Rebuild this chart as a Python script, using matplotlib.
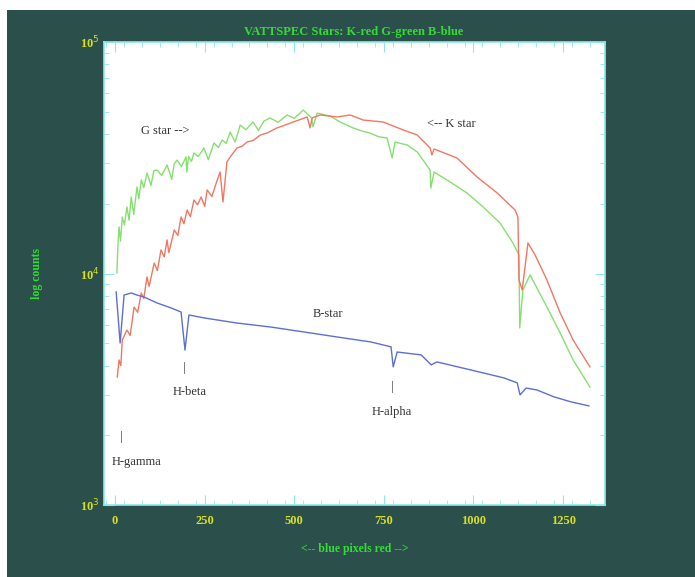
import matplotlib.pyplot as plt
from matplotlib.patches import Rectangle
from matplotlib.ticker import FixedLocator, NullFormatter
import numpy as np

# spectra: pixel index vs counts
g_pix = [5, 8, 11, 15, 20, 26, 33, 39, 45, 52, 61, 66, 73, 80, 89, 100, 108, 117, 130, 145, 158,
         165, 173, 185, 198, 200, 205, 213, 220, 232, 248, 260, 276, 288, 299, 310, 321, 335, 349,
         365, 385, 400, 415, 432, 455, 480, 500, 525, 548, 552, 564, 600, 628, 664, 690, 711, 735,
         759, 773, 781, 815, 843, 879, 881, 890, 935, 982, 1027, 1074, 1110, 1127, 1129, 1138, 1158,
         1180, 1205, 1242, 1278, 1325]
g_cnt = [10050, 13500, 15900, 13800, 17540, 16200, 19380, 17000, 21400, 18000, 23650, 21000, 25350,
         23500, 27170, 24000, 27800, 28000, 26500, 29430, 25500, 29800, 30900, 29000, 31850, 27430,
         32000, 30500, 33190, 32000, 34840, 31000, 36640, 35000, 37740, 36500, 40840, 37000, 43780,
         41800, 45120, 41500, 45500, 46980, 45000, 48390, 46800, 50800, 47000, 43000, 49320, 47860,
         45120, 42560, 41200, 40450, 39000, 38460, 31550, 36980, 35890, 33500, 28000, 23390, 27430,
         24850, 22280, 19380, 16530, 13550, 12020, 5820, 8490, 9860, 8490, 7160, 5530, 4230, 3230]

r_pix = [6, 11, 16, 20, 33, 42, 53, 63, 73, 80, 89, 95, 109, 118, 128, 137, 145, 150, 165, 175, 184,
         192, 201, 210, 220, 230, 240, 250, 257, 270, 285, 293, 301, 312, 325, 340, 355, 368, 385,
         405, 425, 452, 475, 497, 536, 544, 550, 572, 619, 656, 692, 748, 804, 843, 879, 884, 890,
         954, 1010, 1066, 1116, 1124, 1127, 1136, 1152, 1172, 1205, 1242, 1278, 1325]
r_cnt = [3570, 4230, 4000, 5160, 5700, 5400, 7160, 6800, 8240, 7800, 9660, 8800, 11100, 10300,
         12640, 11800, 13960, 12300, 15420, 14600, 17540, 16400, 18810, 17600, 20770, 19800, 21400,
         19500, 22960, 21500, 25350, 27430, 20370, 30330, 32500, 34840, 35500, 36980, 37500, 39630,
         40500, 42560, 43800, 45120, 47430, 42560, 47000, 48390, 47430, 48390, 46030, 45120, 41690,
         39630, 34840, 32510, 34500, 31550, 26120, 22280, 18810, 17540, 9370, 8490, 13550, 12020,
         9370, 6750, 5160, 3950]

b_pix = [3, 14, 25, 45, 61, 81, 117, 156, 184, 195, 206, 248, 340, 435, 527, 619, 714, 770, 776,
         787, 854, 882, 898, 993, 1085, 1122, 1130, 1147, 1177, 1225, 1272, 1322]
b_cnt = [8320, 5010, 8070, 8240, 8070, 7910, 7460, 7100, 6820, 4670, 6620, 6430, 6110, 5870, 5590,
         5320, 5060, 4820, 3950, 4580, 4450, 4030, 4150, 3830, 3540, 3370, 2990, 3200, 3140, 2930,
         2790, 2680]

teal = '#2b4f4b'
cyan = '#8fe8e8'
yellow = '#d8e020'
green_txt = '#33dd33'

fig = plt.figure(figsize=(6.95, 5.77), dpi=100)
fig.patch.set_facecolor('white')
fig.patches.append(Rectangle((7 / 695, 0), 1, 1 - 10 / 577, transform=fig.transFigure,
                             facecolor=teal, edgecolor='none', zorder=-10))

ax = fig.add_axes([104 / 695, 1 - 505 / 577, 501 / 695, 463 / 577])
ax.set_facecolor('white')

ax.plot(g_pix, g_cnt, color='#86e070', lw=1.0)
ax.plot(r_pix, r_cnt, color='#f07862', lw=1.0)
ax.plot(b_pix, b_cnt, color='#5b6fd4', lw=1.0)

ax.set_yscale('log')
ax.set_xlim(-31, 1367)
ax.set_ylim(1e3, 1e5)

serif = 'Liberation Serif'
ax.set_xticks([0, 250, 500, 750, 1000, 1250])
ax.xaxis.set_minor_locator(FixedLocator(range(-25, 1367, 50)))
ax.set_yticks([1e3, 1e4, 1e5])
ax.set_yticklabels(['10$^3$', '10$^4$', '10$^5$'])
ax.yaxis.set_minor_formatter(NullFormatter())
ax.tick_params(which='both', direction='in', colors=cyan, top=True, right=True,
               labelcolor=yellow)
ax.tick_params(which='major', length=7, width=0.8)
ax.tick_params(which='minor', length=3.5, width=0.6)
ax.tick_params(axis='x', pad=7)
for lab in ax.get_xticklabels() + ax.get_yticklabels():
    lab.set_fontfamily(serif)
    lab.set_fontweight('bold')
    lab.set_fontsize(9)
for s in ax.spines.values():
    s.set_color(cyan)
    s.set_linewidth(1.2)

ax.set_xlabel('<-- blue pixels red -->', color=green_txt, fontfamily=serif,
              fontweight='bold', fontsize=8.5, labelpad=12)
ax.set_ylabel('log counts', color=green_txt, fontfamily=serif,
              fontweight='bold', fontsize=8.5, labelpad=26)
fig.text(354 / 695, 1 - 32 / 577, 'VATTSPEC Stars: K-red G-green B-blue', color=green_txt,
         fontfamily=serif, fontweight='bold', fontsize=9, ha='center', va='center')

lbl = dict(fontfamily=serif, fontsize=9, color='#333333', ha='center', va='center')
ax.text(140, 41300, 'G star -->', **lbl)
ax.text(937, 44250, '<-- K star', **lbl)
ax.text(594, 6680, 'B-star', **lbl)
ax.text(209, 3080, 'H-beta', **lbl)
ax.text(193, 3910, '|', **lbl)
ax.text(773, 2520, 'H-alpha', **lbl)
ax.text(773, 3230, '|', **lbl)
ax.text(61, 1535, 'H-gamma', **lbl)
ax.text(17, 1967, '|', **lbl)

fig.savefig('out.png', dpi=100)
